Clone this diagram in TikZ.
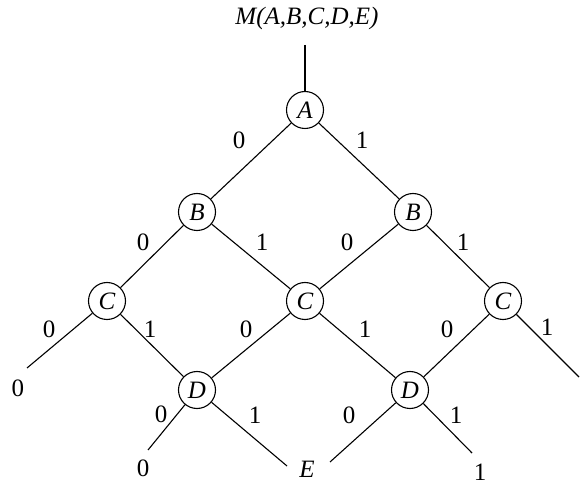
\documentclass[tikz,border=0pt]{standalone}
\usepackage{fontspec}
\setmainfont{Liberation Serif}
\begin{document}
\begin{tikzpicture}[x=1pt,y=-1pt,
  nd/.style={circle,draw,line width=1.1pt,minimum size=37pt,inner sep=0pt,font=\fontsize{25}{25}\selectfont\itshape},
  lb/.style={inner sep=0pt,font=\fontsize{25}{25}\selectfont},
  il/.style={inner sep=0pt,font=\fontsize{25}{25}\selectfont\itshape},
  ed/.style={line width=1.1pt}]
\useasboundingbox (0,0) rectangle (584,486);
% nodes
\node[nd] (A) at (305,110) {A};
\node[nd] (Bl) at (197,212) {B};
\node[nd] (Br) at (413,212) {B};
\node[nd] (Cl) at (107,301) {C};
\node[nd] (Cc) at (305,301) {C};
\node[nd] (Cr) at (503,301) {C};
\node[nd] (Dl) at (197,390) {D};
\node[nd] (Dr) at (410,390) {D};
% top
\node[il] (M) at (307,18) {M(A,B,C,D,E)};
\coordinate (Mt) at (305,45);
% leaves
\coordinate (l1) at (27,368);
\coordinate (l2) at (148,450);
\coordinate (l3) at (287,466);
\coordinate (l4) at (330,462);
\coordinate (l5) at (472,453);
\coordinate (l6) at (579,377);
\node[lb] (t1) at (18,388) {0};
\node[lb] (t2) at (143,468) {0};
\node[il] (t3) at (307,469) {E};
\node[lb] (t5) at (480,472) {1};
\node[lb] (t6) at (590,395) {1};
% edges
\draw[ed] (Mt) -- (A);
\draw[ed] (A) -- (Bl);
\draw[ed] (A) -- (Br);
\draw[ed] (Bl) -- (Cl);
\draw[ed] (Bl) -- (Cc);
\draw[ed] (Br) -- (Cc);
\draw[ed] (Br) -- (Cr);
\draw[ed] (Cl) -- (l1);
\draw[ed] (Cl) -- (Dl);
\draw[ed] (Cc) -- (Dl);
\draw[ed] (Cc) -- (Dr);
\draw[ed] (Cr) -- (Dr);
\draw[ed] (Cr) -- (l6);
\draw[ed] (Dl) -- (l2);
\draw[ed] (Dl) -- (l3);
\draw[ed] (Dr) -- (l4);
\draw[ed] (Dr) -- (l5);
% edge labels
\node[lb] (e1) at (239,140) {0};
\node[lb] (e2) at (362,140) {1};
\node[lb] (e3) at (143,242) {0};
\node[lb] (e4) at (262,242) {1};
\node[lb] (e5) at (347,242) {0};
\node[lb] (e6) at (463,242) {1};
\node[lb] (e7) at (49,329) {0};
\node[lb] (e8) at (150,329) {1};
\node[lb] (e9) at (246,329) {0};
\node[lb] (e10) at (365,329) {1};
\node[lb] (e11) at (447,329) {0};
\node[lb] (e12) at (547,327) {1};
\node[lb] (e13) at (161,414) {0};
\node[lb] (e14) at (255,415) {1};
\node[lb] (e15) at (349,415) {0};
\node[lb] (e16) at (456,415) {1};
\end{tikzpicture}
\end{document}
